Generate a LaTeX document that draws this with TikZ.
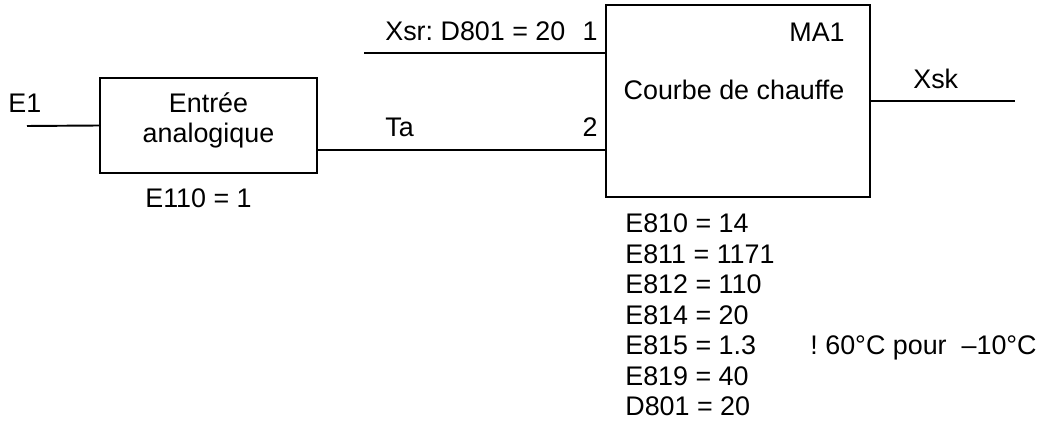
\documentclass[tikz,border=0pt]{standalone}
\usepackage{fontspec}
\setmainfont{Liberation Sans}
\usetikzlibrary{positioning}
\frenchspacing
\tikzset{
    mybox/.style = {rectangle, draw=black, line width=1.1pt, inner sep=0pt},
    mytext/.style = {inner sep=0pt, font=\fontsize{15.3pt}{18pt}\selectfont, text=black},
    edgen/.style = {-, line width=1.1pt, black},
}

\begin{document}
\begin{tikzpicture}[x=0.02cm, y=-0.02cm]
  \useasboundingbox (0,0) rectangle (1041,421);

  % blocks
  \node[mybox, minimum width=4.34cm, minimum height=1.9cm] (ain) at (208.5,125.5) {};
  \node[mybox, minimum width=5.28cm, minimum height=3.83cm] (curve) at (738,101) {};

  % texts
  \node[mytext, anchor=base west] (e1) at (8,113) {E1};
  \node[mytext, anchor=base] (ain1) at (208.5,113) {Entrée};
  \node[mytext, anchor=base] (ain2) at (208.5,143) {analogique};
  \node[mytext, anchor=base west] (e110) at (145,208) {E110 = 1};
  \node[mytext, anchor=base west] (xsr) at (385,41) {Xsr: D801 = 20};
  \node[mytext, anchor=base east] (in1) at (598,41) {1};
  \node[mytext, anchor=base west] (ta) at (385,137) {Ta};
  \node[mytext, anchor=base east] (in2) at (598,137) {2};
  \node[mytext, anchor=base east] (ma1) at (845,42) {MA1};
  \node[mytext, anchor=base] (crv) at (734,100) {Courbe de chauffe};
  \node[mytext, anchor=base west] (xsk) at (913,89) {Xsk};
  \foreach \txt [count=\i from 0] in {E810 = 14, E811 = 1171, E812 = 110, E814 = 20, E815 = 1.3, E819 = 40, D801 = 20}
    \node[mytext, anchor=base west] (par\i) at (625,{233+30.5*\i}) {\txt};
  \node[mytext, anchor=base east] (note) at (1037,355) {! 60°C pour \ –10°C};

  % connectors
  \coordinate (e1end) at (27,126);
  \coordinate (xsrend) at (364,53);
  \coordinate (ta0) at (317,150);
  \coordinate (xskend) at (1015,101);
  \draw[edgen] (e1end) -- (ain.west);
  \draw[edgen] (xsrend) -- (xsrend -| curve.west);
  \draw[edgen] (ta0 -| ain.east) -- (ta0 -| curve.west);
  \draw[edgen] (curve.east) -- (xskend);

\end{tikzpicture}
\end{document}
